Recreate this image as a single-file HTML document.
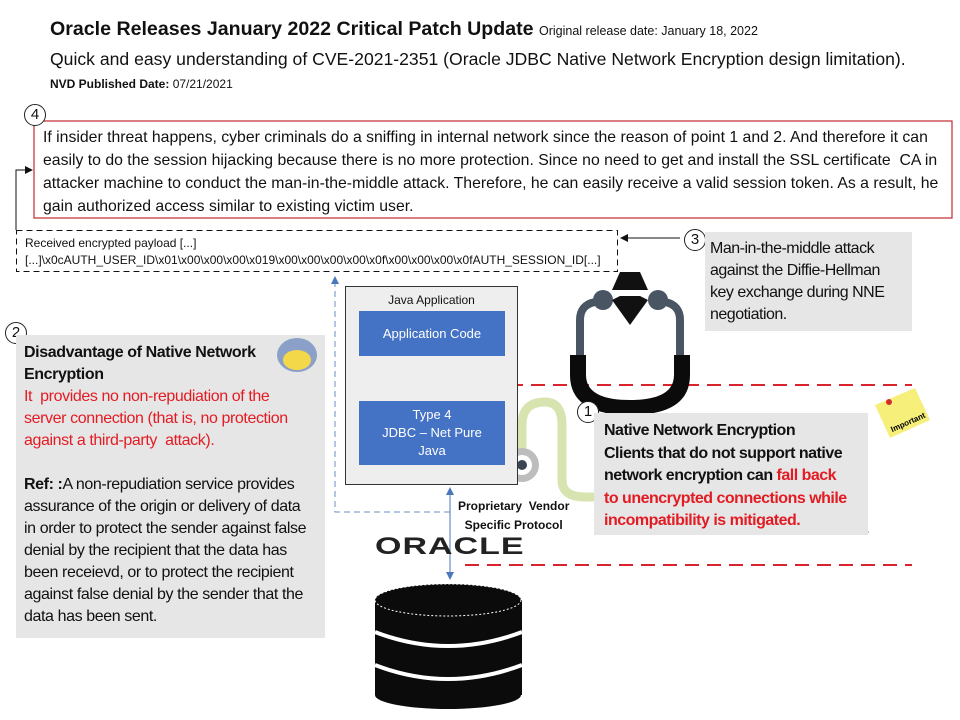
<!DOCTYPE html>
<html><head><meta charset="utf-8"><style>
body{margin:0;width:960px;height:720px;background:#fff;position:relative;overflow:hidden;font-family:"Liberation Sans",Arial,sans-serif;color:#111}
.a{position:absolute;white-space:nowrap}
.c{position:absolute;width:20px;height:20px;border:1px solid #222;border-radius:50%;background:#fff;font-size:15px;text-align:center;line-height:20px}
.gray{position:absolute;background:#e6e6e6}
.red{color:#e31b23}
</style></head><body>
<svg class="a" style="left:0;top:0" width="960" height="720">
<defs>
<marker id="ab" markerWidth="8" markerHeight="8" refX="6" refY="4" orient="auto"><path d="M0,0 L8,4 L0,8z" fill="#111"/></marker>
<marker id="abl" markerWidth="8" markerHeight="8" refX="6" refY="4" orient="auto"><path d="M0,0 L8,4 L0,8z" fill="#4a78b8"/></marker>
<marker id="abs" markerWidth="8" markerHeight="8" refX="1" refY="4" orient="auto"><path d="M8,0 L0,4 L8,8z" fill="#4a78b8"/></marker>
</defs>
<rect x="34" y="121" width="918" height="97" fill="#fff" stroke="#c0282d" stroke-width="1.2"/>
<polyline points="16,230 16,170 31,170" fill="none" stroke="#111" marker-end="url(#ab)"/>
<rect x="16.5" y="230.5" width="601" height="41" fill="#fff" stroke="#111" stroke-dasharray="6,4"/>
<line x1="680" y1="238" x2="622" y2="238" stroke="#111" marker-end="url(#ab)"/>
<polyline points="450,512 335,512 335,278" fill="none" stroke="#6a8fc4" stroke-dasharray="6,4" marker-end="url(#abl)"/>
<line x1="465" y1="385" x2="912" y2="385" stroke="#d9232d" stroke-width="2" stroke-dasharray="14,8"/>
<line x1="465" y1="565" x2="912" y2="565" stroke="#d9232d" stroke-width="2" stroke-dasharray="14,8"/>
<path d="M522,462 L522,425 Q522,402 545,402 Q562,402 562,425 L562,480 Q562,497 585,497 L596,497" fill="none" stroke="#d7e4b0" stroke-width="9"/>
<circle cx="522" cy="465" r="17" fill="#bdbdbd"/><circle cx="522" cy="465" r="10" fill="#fff"/><circle cx="522" cy="465" r="5" fill="#3b4552"/>
<path d="M580,355 L580,320 Q580,305 595,302" fill="none" stroke="#4a5563" stroke-width="8"/>
<path d="M680,355 L680,320 Q680,305 665,302" fill="none" stroke="#4a5563" stroke-width="8"/>
<circle cx="603" cy="300" r="10" fill="#4a5563"/><circle cx="658" cy="300" r="10" fill="#4a5563"/>
<path d="M612,290 L620,272 L640,272 L648,290 Z" fill="#111"/>
<path d="M612,300 L630,325 L648,300 L640,296 L620,296Z" fill="#111"/>
<path d="M570,355 L570,375 Q570,415 630,415 Q690,415 690,375 L690,355 L674,355 L674,375 Q674,400 630,400 Q586,400 586,375 L586,355Z" fill="#0b0b0b"/>
<line x1="432" y1="362" x2="432" y2="396" stroke="#4a78b8" marker-start="url(#abs)" marker-end="url(#abl)"/>
<line x1="450" y1="488" x2="450" y2="578" stroke="#4a78b8" marker-start="url(#abs)" marker-end="url(#abl)"/>
<rect x="375" y="600" width="147" height="95" fill="#0b0b0b"/>
<ellipse cx="448" cy="695" rx="73" ry="14" fill="#0b0b0b"/>
<ellipse cx="448" cy="600" rx="73" ry="16" fill="#0b0b0b" stroke="#fff" stroke-dasharray="2,2"/>
<path d="M375,632 Q448,660 522,632" fill="none" stroke="#fff" stroke-width="4"/>
<path d="M375,665 Q448,693 522,665" fill="none" stroke="#fff" stroke-width="4"/>
<polygon points="875,405 915,388 930,420 890,438" fill="#f6f07a"/>
<circle cx="889" cy="402" r="3" fill="#d42a2a"/>
<text x="888" y="428" font-size="8" font-weight="bold" transform="rotate(-24 900 420)" font-family="Liberation Sans">Important</text>
<polygon points="853,503 838,532 868,532" fill="#d9232d" stroke="#a51218"/>
<rect x="851.5" y="512" width="3" height="12" fill="#fff"/><rect x="851.5" y="526" width="3" height="3" fill="#fff"/>
</svg>

<div class="a" style="left:50px;top:18px;font-size:19.6px;font-weight:bold">Oracle Releases January 2022 Critical Patch Update <span style="font-size:12.5px;font-weight:normal">Original release date: January 18, 2022</span></div>
<div class="a" style="left:50px;top:49px;font-size:17.6px">Quick and easy understanding of CVE-2021-2351 (Oracle JDBC Native Network Encryption design limitation).</div>
<div class="a" style="left:50px;top:77px;font-size:12px"><b>NVD Published Date:</b> 07/21/2021</div>

<div class="c" style="left:24px;top:104px">4</div>
<div class="a" style="left:43px;top:126px;font-size:15.8px;line-height:23px">If insider threat happens, cyber criminals do a sniffing in internal network since the reason of point 1 and 2. And therefore it can<br>easily to do the session hijacking because there is no more protection. Since no need to get and install the SSL certificate&nbsp; CA in<br>attacker machine to conduct the man-in-the-middle attack. Therefore, he can easily receive a valid session token. As a result, he<br>gain authorized access similar to existing victim user.</div>

<div class="a" style="left:25px;top:235px;font-size:12px;line-height:17px">Received encrypted payload [...]<br>[...]\x0cAUTH_USER_ID\x01\x00\x00\x00\x019\x00\x00\x00\x00\x0f\x00\x00\x00\x0fAUTH_SESSION_ID[...]</div>

<div class="c" style="left:684px;top:229px">3</div>
<div class="gray" style="left:705px;top:232px;width:207px;height:99px"></div>
<div class="a" style="left:710px;top:238px;font-size:16px;line-height:22px;letter-spacing:-0.5px">Man-in-the-middle attack<br>against the Diffie-Hellman<br>key exchange during NNE<br>negotiation.</div>

<div class="a" style="left:345px;top:286px;width:171px;height:197px;background:#eee;border:1px solid #333"></div>
<div class="a" style="left:345px;top:293px;width:173px;text-align:center;font-size:12px">Java Application</div>
<div class="a" style="left:359px;top:311px;width:146px;height:45px;background:#4472c4;color:#fff;font-size:13px;text-align:center;line-height:45px">Application Code</div>
<div class="a" style="left:359px;top:401px;width:146px;height:64px;background:#4472c4;color:#fff;font-size:13px;text-align:center;line-height:18px;padding-top:5px;box-sizing:border-box">Type 4<br>JDBC – Net Pure<br>Java</div>

<div class="c" style="left:5px;top:322px">2</div>
<div class="gray" style="left:16px;top:335px;width:309px;height:303px"></div>
<div class="a" style="left:24px;top:342px;font-size:16px;line-height:22px;letter-spacing:-0.4px"><b>Disadvantage of Native Network<br>Encryption</b><br><span class="red">It&nbsp; provides no non-repudiation of the<br>server connection (that is, no protection<br>against a third-party&nbsp; attack).</span><br><br><b>Ref: :</b>A non-repudiation service provides<br>assurance of the origin or delivery of data<br>in order to protect the sender against false<br>denial by the recipient that the data has<br>been receievd, or to protect the recipient<br>against false denial by the sender that the<br>data has been sent.</div>
<div class="a" style="left:277px;top:338px;width:40px;height:34px;border-radius:50%;background:#8aa0c8"></div>
<div class="a" style="left:283px;top:350px;width:28px;height:20px;border-radius:50%;background:#f3d84a"></div>

<div class="a" style="left:458px;top:497px;font-size:12px;font-weight:bold;line-height:19px;text-align:center">Proprietary&nbsp; Vendor<br>Specific Protocol</div>
<div class="a" style="left:375px;top:533px;font-size:34px;letter-spacing:1px;transform:scaleY(0.7);transform-origin:top left;font-weight:bold;color:#222">ORACLE</div>

<div class="c" style="left:577px;top:401px">1</div>
<div class="gray" style="left:594px;top:413px;width:274px;height:122px"></div>
<div class="a" style="left:604px;top:420px;font-size:16px;font-weight:bold;line-height:22.5px;letter-spacing:-0.5px">Native Network Encryption<br>Clients that do not support native<br>network encryption can <span class="red">fall back<br>to unencrypted connections while<br>incompatibility is mitigated.</span></div>
</body></html>
